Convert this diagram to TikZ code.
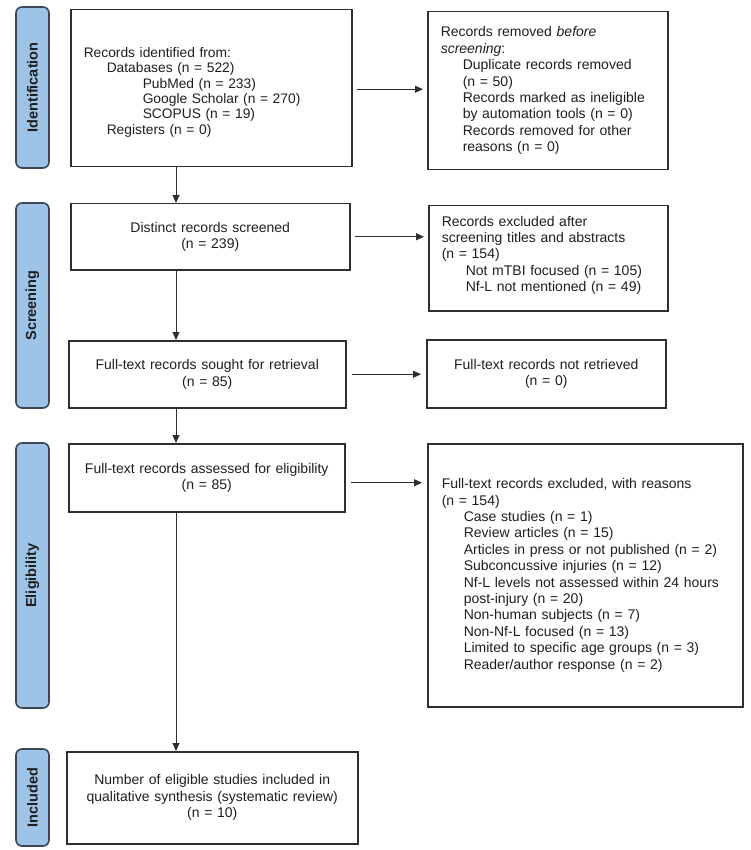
\documentclass[tikz,border=0pt]{standalone}
\usepackage{fontspec}
\setmainfont{Liberation Sans}
\usetikzlibrary{arrows.meta}
\definecolor{barfill}{HTML}{9DC3E6}
\definecolor{barline}{HTML}{3A4656}
\definecolor{boxline}{HTML}{2E2E2E}
\definecolor{txt}{HTML}{1E1E1E}
\begin{document}
\begin{tikzpicture}[x=1pt,y=-1pt,
  box/.style={draw=boxline, line width=1.5pt, rectangle, anchor=north west, inner ysep=0pt, text=txt, font=\fontsize{14}{16.4}\selectfont},
  phase/.style={draw=barline, fill=barfill, line width=1.6pt, rounded corners=6pt, rotate=90, minimum height=33pt, inner sep=0pt, font=\bfseries\fontsize{14.5}{16}\selectfont, text=txt},
  arr/.style={draw=boxline, line width=0.9pt, -{Triangle[length=8pt,width=7pt]}}]
\useasboundingbox (0,0) rectangle (750,850);

% phase bars
\node[phase, minimum width=161pt] (pid) at (32.5,87.5) {Identification};
\node[phase, minimum width=205pt] (psc) at (32.5,305.5) {Screening};
\node[phase, minimum width=265pt] (pel) at (32.5,575.5) {Eligibility};
\node[phase, minimum width=97pt] (pin) at (32.5,797.5) {Included};

% left column
\node[box, font=\fontsize{13.8}{15.3}\selectfont, text width=255pt, inner xsep=13pt, minimum height=157pt, align=left] (b1) at (70,9)
 {Records identified from:\\
  \hspace*{23pt}Databases (n = 522)\\
  \hspace*{59pt}PubMed (n = 233)\\
  \hspace*{59pt}Google Scholar (n = 270)\\
  \hspace*{59pt}SCOPUS (n = 19)\\
  \hspace*{23pt}Registers (n = 0)\par\vspace*{-8pt}};
\node[box, text width=259pt, inner xsep=10pt, minimum height=66pt, align=center] (b2) at (70,203)
 {Distinct records screened\\(n = 239)};
\node[box, text width=257pt, inner xsep=10pt, minimum height=67pt, align=center] (b3) at (68,340)
 {Full-text records sought for retrieval\\(n = 85)};
\node[box, text width=256pt, inner xsep=10pt, minimum height=68pt, align=center] (b4) at (68,443)
 {Full-text records assessed for eligibility\\(n = 85)};
\node[box, text width=271pt, inner xsep=10pt, minimum height=92pt, align=center] (b5) at (66,751)
 {Number of eligible studies included in\\qualitative synthesis (systematic review)\\(n = 10)};

% right column
\node[box, text width=214pt, inner xsep=13pt, minimum height=158pt, align=left] (r1) at (427,11)
 {Records removed \textit{before}\\
  \textit{screening}:\\
  \hspace*{22pt}Duplicate records removed\\
  \hspace*{22pt}(n = 50)\\
  \hspace*{22pt}Records marked as ineligible\\
  \hspace*{22pt}by automation tools (n = 0)\\
  \hspace*{22pt}Records removed for other\\
  \hspace*{22pt}reasons (n = 0)};
\node[box, text width=213pt, inner xsep=13pt, minimum height=105pt, align=left] (r2) at (428,205)
 {Records excluded after\\
  screening titles and abstracts\\
  (n = 154)\\
  \hspace*{24pt}Not mTBI focused (n = 105)\\
  \hspace*{24pt}Nf-L not mentioned (n = 49)\par\vspace*{6pt}};
\node[box, text width=219pt, inner xsep=10pt, minimum height=68pt, align=center] (r3) at (426,339)
 {Full-text records not retrieved\\(n = 0)};
\node[box, text width=287pt, inner xsep=14pt, minimum height=263pt, align=left] (r4) at (427,443)
 {Full-text records excluded, with reasons\\
  (n = 154)\\
  \hspace*{22pt}Case studies (n = 1)\\
  \hspace*{22pt}Review articles (n = 15)\\
  \hspace*{22pt}Articles in press or not published (n = 2)\\
  \hspace*{22pt}Subconcussive injuries (n = 12)\\
  \hspace*{22pt}Nf-L levels not assessed within 24 hours\\
  \hspace*{22pt}post-injury (n = 20)\\
  \hspace*{22pt}Non-human subjects (n = 7)\\
  \hspace*{22pt}Non-Nf-L focused (n = 13)\\
  \hspace*{22pt}Limited to specific age groups (n = 3)\\
  \hspace*{22pt}Reader/author response (n = 2)};

% connectors
\coordinate (vx) at (176,0);
\draw[arr] (b1.south -| vx) -- (b2.north -| vx);
\draw[arr] (b2.south -| vx) -- (b3.north -| vx);
\draw[arr] (b3.south -| vx) -- (b4.north -| vx);
\draw[arr] (b4.south -| vx) -- (b5.north -| vx);

\draw[arr, shorten <=4pt, shorten >=4pt] ([yshift=-1pt]b1.east) -- ([yshift=-1pt]b1.east -| r1.west);
\draw[arr, shorten <=4pt, shorten >=4pt] (b2.east) -- (b2.east -| r2.west);
\draw[arr, shorten <=5pt, shorten >=5pt] (b3.east) -- (b3.east -| r3.west);
\draw[arr, shorten <=5pt, shorten >=5pt] ([yshift=-5pt]b4.east) -- ([yshift=-5pt]b4.east -| r4.west);
\end{tikzpicture}
\end{document}
